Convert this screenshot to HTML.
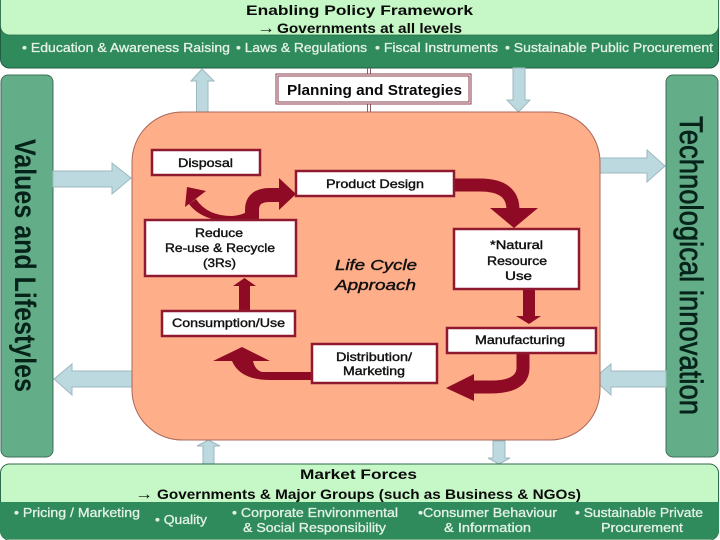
<!DOCTYPE html>
<html><head><meta charset="utf-8"><style>
html,body{margin:0;padding:0;background:#fff;width:720px;height:540px;overflow:hidden}
svg{display:block;filter:blur(.35px)}
text{font-family:"Liberation Sans",sans-serif}
.b{fill:#bcd9e0;stroke:#9db9c0;stroke-width:1}
.r{fill:#8f0a24}
.l{fill:none;stroke:#8f0a24}
.box{fill:#fff;stroke:#8f1a30;stroke-width:2.5}
.w{fill:#e4f2e6;font-size:13px;stroke:#e4f2e6;stroke-width:.3}
.k{fill:#111;font-size:12px;stroke:#111;stroke-width:.4}
.h{fill:#0a0a0a;font-size:14px;font-weight:bold}
</style></head><body>
<svg width="720" height="540" viewBox="0 0 720 540" xmlns="http://www.w3.org/2000/svg">
<rect width="720" height="540" fill="#fff"/>
<rect x="0.5" y="-10" width="718" height="78" rx="9" fill="#2f8b5c" stroke="#1f5d40"/>
<rect x="0.5" y="-10" width="718" height="45" rx="9" fill="#c6f7c6" stroke="#2e6b4a" stroke-width=".8"/>
<rect x="1" y="75" width="52" height="382" rx="7" fill="#63ae88" stroke="#3f6f58"/>
<rect x="666" y="75" width="52" height="382" rx="7" fill="#63ae88" stroke="#3f6f58"/>
<path class="b" d="M196.500 112V81H191L202 69L214 81H208V112Z"/>
<path class="b" d="M513 68V100H507L518.500 112L530 100H525V68Z"/>
<path class="b" d="M53 171H112V163L131 178L112 194V187H53Z"/>
<path class="b" d="M133 371H72V364L54 379L72 395V387H133Z"/>
<path class="b" d="M593 158H647V150L665 166L647 182V173H593Z"/>
<path class="b" d="M666 371H611V364L593 379L611 395V387H666Z"/>
<path class="b" d="M203 464V446H197L208.500 440L220 446H214V464Z"/>
<path class="b" d="M493 441V458H488L499 464L510 458H505V441Z"/>
<rect x="132" y="112" width="468" height="328" rx="50" fill="#ffae8a" stroke="#a8685a" stroke-width="1"/>
<path d="M367.500 68V112M370.500 68V112" stroke="#8f5a60" stroke-width="1" fill="none"/>
<rect x="276" y="74" width="195" height="30" fill="#fff" stroke="#8a3a48" stroke-width="1"/>
<rect x="278" y="76" width="191" height="26" fill="#fff" stroke="#8a3a48" stroke-width="1"/>
<rect x="0.500" y="464" width="718" height="76" rx="9" fill="#c6f7c6" stroke="#2e6b4a"/>
<path d="M0 502H719V530Q719 539 710 539H9Q0 539 0 530Z" fill="#2f8b5c"/>
<path class="l" stroke-width="14" d="M252 220V210Q252 195 270 195H282"/>
<path class="r" d="M279 178L296 194L279 210Z"/>
<path class="r" d="M196 199Q207 216 232 216Q243 215 248 211V220H216Q198 216 189 204Z"/>
<path class="r" d="M187 187L206 191L185 207Z"/>
<path class="l" stroke-width="13" d="M454 185H480Q513 185 513 210"/>
<path class="r" d="M490 208H538L514 228Z"/>
<rect class="r" x="523" y="289" width="12" height="28"/>
<path class="r" d="M516 316H541L529 324Z"/>
<path class="l" stroke-width="13" d="M523 353V368Q523 387 490 387H472"/>
<path class="r" d="M474 374V401L446 388Z"/>
<path class="r" d="M313 372H262Q255 370 253 361H232Q240 380 270 380H313Z"/>
<path class="r" d="M213 361H270L242 347Z"/>
<rect class="r" x="239" y="284" width="11" height="27"/>
<path class="r" d="M233 286H256L244.500 278Z"/>
<rect class="box" x="152" y="150" width="108" height="25"/>
<rect class="box" x="296" y="171" width="158" height="25"/>
<rect class="box" x="145" y="220" width="151" height="56"/>
<rect class="box" x="454" y="229" width="125" height="60"/>
<rect class="box" x="447" y="328" width="149" height="25"/>
<rect class="box" x="312" y="344" width="125" height="39"/>
<rect class="box" x="162" y="311" width="133" height="25"/>
<text class="h" x="246" y="15" textLength="227" lengthAdjust="spacingAndGlyphs">Enabling Policy Framework</text>
<text x="257" y="33" font-size="16" fill="#111" textLength="18" lengthAdjust="spacingAndGlyphs">→</text>
<text class="h" x="277" y="33" textLength="185" lengthAdjust="spacingAndGlyphs">Governments at all levels</text>
<text class="w" x="22" y="52" textLength="208" lengthAdjust="spacingAndGlyphs">• Education &amp; Awareness Raising</text>
<text class="w" x="236" y="52" textLength="131" lengthAdjust="spacingAndGlyphs">• Laws &amp; Regulations</text>
<text class="w" x="375" y="52" textLength="123" lengthAdjust="spacingAndGlyphs">• Fiscal Instruments</text>
<text class="w" x="505" y="52" textLength="208" lengthAdjust="spacingAndGlyphs">• Sustainable Public Procurement</text>
<text class="h" x="287" y="95" font-size="15" style="font-size:15px" textLength="175" lengthAdjust="spacingAndGlyphs">Planning and Strategies</text>
<text class="k" x="178" y="167" textLength="55" lengthAdjust="spacingAndGlyphs">Disposal</text>
<text class="k" x="326" y="188" textLength="98" lengthAdjust="spacingAndGlyphs">Product Design</text>
<text class="k" x="195" y="237" textLength="48" lengthAdjust="spacingAndGlyphs">Reduce</text>
<text class="k" x="165" y="252" textLength="110" lengthAdjust="spacingAndGlyphs">Re-use &amp; Recycle</text>
<text class="k" x="203" y="267" textLength="33" lengthAdjust="spacingAndGlyphs">(3Rs)</text>
<text class="k" x="490" y="249" textLength="53" lengthAdjust="spacingAndGlyphs">*Natural</text>
<text class="k" x="487" y="265" textLength="60" lengthAdjust="spacingAndGlyphs">Resource</text>
<text class="k" x="505" y="280" textLength="27" lengthAdjust="spacingAndGlyphs">Use</text>
<text class="k" x="475" y="344" textLength="90" lengthAdjust="spacingAndGlyphs">Manufacturing</text>
<text class="k" x="336" y="361" textLength="76" lengthAdjust="spacingAndGlyphs">Distribution/</text>
<text class="k" x="343" y="375" textLength="62" lengthAdjust="spacingAndGlyphs">Marketing</text>
<text class="k" x="172" y="327" textLength="113" lengthAdjust="spacingAndGlyphs">Consumption/Use</text>
<text x="335" y="270" font-size="15" font-style="italic" fill="#111" stroke="#111" stroke-width=".4" textLength="82" lengthAdjust="spacingAndGlyphs">Life Cycle</text>
<text x="335" y="290" font-size="15" font-style="italic" fill="#111" stroke="#111" stroke-width=".4" textLength="81" lengthAdjust="spacingAndGlyphs">Approach</text>
<text transform="translate(15,139) rotate(90)" font-size="30" font-weight="bold" fill="#06231a" textLength="253" lengthAdjust="spacingAndGlyphs">Values and Lifestyles</text>
<text transform="translate(680,116) rotate(90)" font-size="32" fill="#06231a" stroke="#06231a" stroke-width=".7" textLength="299" lengthAdjust="spacingAndGlyphs">Technological innovation</text>
<text class="h" x="300" y="479" textLength="117" lengthAdjust="spacingAndGlyphs">Market Forces</text>
<text x="135" y="499" font-size="16" fill="#111" textLength="18" lengthAdjust="spacingAndGlyphs">→</text>
<text class="h" x="157" y="499" textLength="424" lengthAdjust="spacingAndGlyphs">Governments &amp; Major Groups (such as Business &amp; NGOs)</text>
<text class="w" x="14" y="517" textLength="126" lengthAdjust="spacingAndGlyphs">• Pricing / Marketing</text>
<text class="w" x="155" y="524" textLength="52" lengthAdjust="spacingAndGlyphs">• Quality</text>
<text class="w" x="232" y="517" textLength="166" lengthAdjust="spacingAndGlyphs">• Corporate Environmental</text>
<text class="w" x="243" y="532" textLength="143" lengthAdjust="spacingAndGlyphs">&amp; Social Responsibility</text>
<text class="w" x="418" y="517" textLength="139" lengthAdjust="spacingAndGlyphs">•Consumer Behaviour</text>
<text class="w" x="444" y="532" textLength="87" lengthAdjust="spacingAndGlyphs">&amp;  Information</text>
<text class="w" x="575" y="517" textLength="128" lengthAdjust="spacingAndGlyphs">• Sustainable Private</text>
<text class="w" x="601" y="532" textLength="82" lengthAdjust="spacingAndGlyphs">Procurement</text>
</svg>
</body></html>
